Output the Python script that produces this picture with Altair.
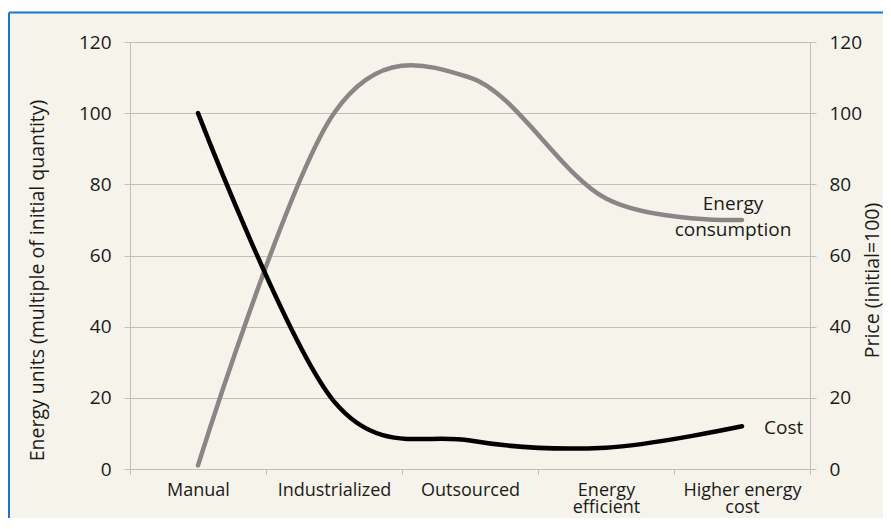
import json
import altair as alt
import pandas as pd

# ---- data ----
stages = ["Manual", "Industrialized", "Outsourced", "Energy efficient", "Higher energy cost"]
stage_lines = [["Manual"], ["Industrialized"], ["Outsourced"], ["Energy", "efficient"], ["Higher energy", "cost"]]
energy_consumption = [1, 100, 110, 76, 70]
cost = [100, 19, 8, 6, 12]
series_names = ["Energy consumption", "Cost"]
y_ticks = [0, 20, 40, 60, 80, 100, 120]

FONT = "Open Sans"
TXT = "#1A1A1A"
GRID = "#BFBFBF"

pos = [i + 0.5 for i in range(len(stages))]
df_energy = pd.DataFrame({"pos": pos, "stage": stages, "value": energy_consumption})
df_cost = pd.DataFrame({"pos": pos, "stage": stages, "value": cost})
df_energy_lbl = pd.DataFrame({"pos": [pos[-1]], "value": [energy_consumption[-1]], "name": [series_names[0]]})
df_cost_lbl = pd.DataFrame({"pos": [pos[-1]], "value": [cost[-1]], "name": [series_names[1]]})

x_values = [i * 0.5 for i in range(2 * len(stages) + 1)]
label_expr = "datum.value % 1 == 0 ? '' : " + json.dumps(stage_lines) + "[floor(datum.value)]"

x_enc = alt.X(
    "pos:Q",
    scale=alt.Scale(domain=[0, len(stages)], nice=False, zero=False),
    axis=alt.Axis(
        title=None, values=x_values, labelExpr=label_expr, grid=False,
        tickSize=5, tickColor=GRID,
        tickOpacity={"condition": {"test": "datum.value % 1 == 0", "value": 1}, "value": 0},
        labelPadding=7, labelOverlap=False, labelFlush=False, labelBaseline="top",
        labelFontSize=18, labelLineHeight=17.5, domainColor=GRID,
    ),
)

y_left = alt.Y(
    "value:Q",
    scale=alt.Scale(domain=[0, 120], nice=False),
    axis=alt.Axis(
        orient="left", values=y_ticks, title="Energy units (multiple of initial quantity)",
        grid=True, gridColor=GRID, tickSize=6, tickColor=GRID, domainColor=GRID, labelPadding=13,
        titleAngle=270, titleX=-93, titleY=238, titleAlign="center", titleBaseline="middle",
    ),
)
y_right = alt.Y(
    "value:Q",
    scale=alt.Scale(domain=[0, 120], nice=False),
    axis=alt.Axis(
        orient="right", values=y_ticks, title="Price (initial=100)",
        grid=False, tickSize=6, tickColor=GRID, domainColor=GRID, labelPadding=13,
        titleAngle=270, titleX=62, titleY=238, titleAlign="center", titleBaseline="middle",
    ),
)

energy_line = alt.Chart(df_energy).mark_line(
    interpolate="cardinal", color="#8C8485", strokeWidth=4.5, strokeCap="round"
).encode(x=x_enc, y=y_left)
energy_text = alt.Chart(df_energy_lbl).mark_text(
    font=FONT, fontSize=19, color=TXT, align="center", baseline="alphabetic",
    dx=-9, dy=-10, lineBreak=" ", lineHeight=26,
).encode(x=x_enc, y=y_left, text="name:N")

cost_line = alt.Chart(df_cost).mark_line(
    interpolate="cardinal", color="#000000", strokeWidth=4.5, strokeCap="round"
).encode(x=x_enc, y=y_right)
cost_text = alt.Chart(df_cost_lbl).mark_text(
    font=FONT, fontSize=19, color=TXT, align="left", baseline="alphabetic", dx=22, dy=8,
).encode(x=x_enc, y=y_right, text="name:N")

left = alt.layer(energy_line, energy_text)
right = alt.layer(cost_line, cost_text)

# decorative frame (white strip on top, blue border lines)
one = alt.Data(values=[{}])
strip = alt.Chart(one).mark_rect(color="white").encode(
    x=alt.value(-130), x2=alt.value(900), y=alt.value(-40), y2=alt.value(-29.5))
rule_h = alt.Chart(one).mark_rule(color="#1C74D4", strokeWidth=2).encode(
    x=alt.value(-121), x2=alt.value(900), y=alt.value(-29.5))
rule_v = alt.Chart(one).mark_rule(color="#1C74D4", strokeWidth=2).encode(
    x=alt.value(-121), y=alt.value(-29.5), y2=alt.value(700))

chart = alt.layer(strip, rule_h, rule_v, left, right).resolve_scale(y="independent").properties(
    width=680, height=427,
    padding={"left": 122, "top": 34, "right": 73, "bottom": 49},
    autosize=alt.AutoSizeParams(type="none"),
    background="#F6F4EA",
).configure_view(stroke=None).configure_axis(
    labelFont=FONT, labelFontSize=19, labelColor=TXT,
    titleFont=FONT, titleFontSize=19.5, titleColor=TXT, titleFontWeight="normal",
    gridWidth=1, domainWidth=1, tickWidth=1,
)

chart.save("out.html", embed_options={"renderer": "svg", "actions": False})
